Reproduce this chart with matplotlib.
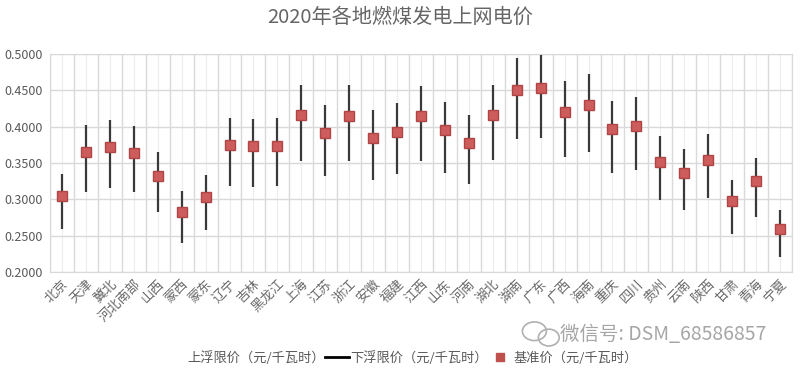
import matplotlib
matplotlib.use("Agg")
import matplotlib.pyplot as plt
from matplotlib.lines import Line2D
from matplotlib.patches import Ellipse
import numpy as np

plt.rcParams['font.family'] = ['Noto Sans CJK SC', 'DejaVu Sans']

# 2020 coal power benchmark prices, yuan/kWh
regions = ['北京', '天津', '冀北', '河北南部', '山西', '蒙西', '蒙东', '辽宁', '吉林', '黑龙江',
           '上海', '江苏', '浙江', '安徽', '福建', '江西', '山东', '河南', '湖北', '湖南',
           '广东', '广西', '海南', '重庆', '四川', '贵州', '云南', '陕西', '甘肃', '青海', '宁夏']
base = [0.3050, 0.3655, 0.3720, 0.3644, 0.3320, 0.2829, 0.3035, 0.3749, 0.3731, 0.3740,
        0.4155, 0.3910, 0.4153, 0.3844, 0.3932, 0.4143, 0.3949, 0.3779, 0.4161, 0.4500,
        0.4530, 0.4207, 0.4298, 0.3964, 0.4012, 0.3515, 0.3358, 0.3545, 0.2970, 0.3247, 0.2595]
upper = [0.3355, 0.4021, 0.4092, 0.4008, 0.3652, 0.3112, 0.3339, 0.4124, 0.4104, 0.4114,
         0.4571, 0.4301, 0.4568, 0.4228, 0.4325, 0.4557, 0.4344, 0.4157, 0.4577, 0.4950,
         0.4983, 0.4628, 0.4728, 0.4360, 0.4413, 0.3867, 0.3694, 0.3900, 0.3267, 0.3572, 0.2855]
lower = [0.2593, 0.3107, 0.3162, 0.3097, 0.2822, 0.2405, 0.2580, 0.3187, 0.3171, 0.3179,
         0.3532, 0.3324, 0.3530, 0.3267, 0.3342, 0.3522, 0.3357, 0.3212, 0.3537, 0.3825,
         0.3851, 0.3576, 0.3653, 0.3369, 0.3410, 0.2988, 0.2854, 0.3013, 0.2525, 0.2760, 0.2206]

fig = plt.figure(figsize=(8, 3.73), dpi=100)
ax = fig.add_axes([0.0625, 0.271, 0.9275, 0.584])

x = np.arange(len(regions))
ax.vlines(x, lower, upper, color='#3a3a3a', lw=1.6, zorder=3)
ax.plot(x, base, 's', ms=6.5, mfc='#cd5c5c', mec='#b04545', mew=1, zorder=4)

ax.set_xlim(-0.5, len(regions) - 0.5)
ax.set_ylim(0.2, 0.5)
ax.set_yticks(np.arange(0.2, 0.5001, 0.05))
ax.set_yticklabels(['%.4f' % v for v in np.arange(0.2, 0.5001, 0.05)])
ax.set_xticks(x)
ax.set_xticklabels(regions, rotation=45, ha='right', rotation_mode='anchor')
ax.set_xticks(np.arange(-0.5, len(regions), 1), minor=True)

ax.grid(True, which='major', axis='y', color='#d9d9d9', lw=1)
ax.grid(True, which='major', axis='x', color='#ececec', lw=0.8)
ax.grid(True, which='minor', axis='x', color='#d9d9d9', lw=1)
ax.set_axisbelow(True)
for s in ax.spines.values():
    s.set_color('#d9d9d9')
ax.tick_params(which='both', length=0)
ax.tick_params(axis='y', labelsize=9, labelcolor='#595959', pad=5)
ax.tick_params(axis='x', labelsize=9.5, labelcolor='#6a6a6a', pad=4)

fig.text(0.5, 0.953, '2020年各地燃煤发电上网电价', ha='center', va='center',
         fontsize=14.5, color='#666666')

handles = [Line2D([], [], color='none'),
           Line2D([], [], color='black', lw=2),
           Line2D([], [], ls='none', marker='s', ms=6, mfc='#c0504d', mec='#c0504d')]
labels = ['上浮限价（元/千瓦时）', '下浮限价（元/千瓦时）', '基准价（元/千瓦时）']
fig.legend(handles, labels, loc='center', bbox_to_anchor=(0.5, 0.04), ncol=3,
           frameon=False, fontsize=9.5, labelcolor='#595959', handlelength=1.8,
           handletextpad=0.1, columnspacing=0.0)

# watermark
fig.text(0.70, 0.103, '微信号: DSM_68586857', ha='left', va='center',
         fontsize=14, color='#a6a6a6')
fig.patches.append(Ellipse((0.668, 0.112), 0.03, 0.05, transform=fig.transFigure,
                           fill=False, ec='#b0b0b0', lw=1.2))
fig.patches.append(Ellipse((0.686, 0.095), 0.026, 0.045, transform=fig.transFigure,
                           fill=False, ec='#b0b0b0', lw=1.2))

fig.savefig('out.png', dpi=100, facecolor='white')
